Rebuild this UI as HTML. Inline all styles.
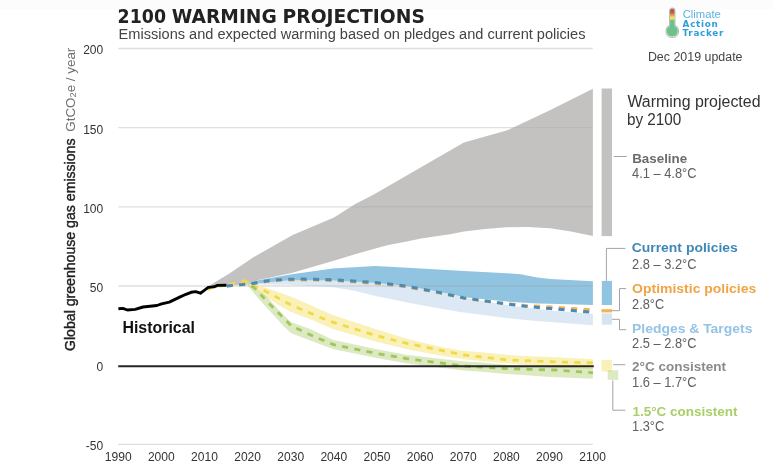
<!DOCTYPE html>
<html lang="en"><head><meta charset="utf-8"><title>2100 Warming Projections</title>
<style>
html,body{margin:0;padding:0;background:#fff;}
body{width:773px;height:475px;overflow:hidden;}
svg{display:block;font-family:"Liberation Sans",sans-serif;}
</style></head><body>
<svg width="773" height="475" viewBox="0 0 773 475">
<rect x="0" y="0" width="773" height="475" fill="#ffffff"/>
<rect x="0" y="0" width="773" height="9.6" fill="#fcfcfc"/>

<g stroke="#dfdfdf" stroke-width="1.3" fill="none">
<line x1="118.2" x2="592.8" y1="48.5" y2="48.5"/>
<line x1="118.2" x2="592.8" y1="127.7" y2="127.7"/>
<line x1="118.2" x2="592.8" y1="206.8" y2="206.8"/>
<line x1="118.2" x2="592.8" y1="286.0" y2="286.0"/>
<line x1="118.2" x2="592.8" y1="444.3" y2="444.3"/>
</g>
<path d="M210.0,285.3 L229.8,273.2 L252.6,257.7 L292.7,235.1 L334.0,217.6 L355.3,204.0 L372.9,195.0 L405.0,176.5 L463.9,142.6 L506.5,130.6 L550.4,110.1 L592.9,88.8 L592.9,235.9 L571.0,231.6 L550.4,228.2 L528.0,227.0 L506.5,227.3 L485.0,228.9 L463.9,231.6 L450.0,234.2 L421.0,238.4 L408.0,241.2 L387.3,245.3 L375.4,248.6 L355.0,254.2 L333.8,260.8 L320.0,264.7 L290.7,273.2 L257.2,280.3 L253.0,282.4 L247.6,284.6 L226.0,285.8 L218.0,285.8 L210.0,285.3Z" fill="#c3c2c1"/>
<path d="M238.5,283.6 L245,279.2 L251,282.6 L249.5,285.2 L238.5,285.4Z" fill="#efe08a" fill-opacity="0.55"/>
<path d="M248.0,284.4 L290.2,280.2 L332.8,280.6 L375.4,283.0 L405.0,285.7 L437.6,291.5 L470.0,298.7 L503.7,304.6 L537.3,309.1 L550.4,310.5 L592.9,313.8 L592.9,325.2 L550.4,321.9 L537.3,320.9 L506.5,318.0 L470.0,313.3 L460.0,311.9 L437.0,308.0 L405.8,302.2 L395.6,300.0 L375.4,296.0 L353.0,290.6 L332.8,287.2 L290.2,284.7 L248.0,284.6Z" fill="#dce8f3"/>
<path d="M248.0,284.2 L252.6,281.3 L290.2,274.6 L332.8,268.6 L375.4,266.0 L408.0,267.7 L463.9,270.9 L506.5,273.2 L520.5,274.3 L537.3,277.6 L550.4,279.0 L592.9,281.3 L592.9,304.9 L550.4,303.8 L537.3,303.4 L506.5,301.6 L470.0,297.8 L463.9,297.0 L437.6,291.5 L405.0,285.7 L375.4,283.0 L332.8,280.6 L290.2,280.2 L248.0,284.4Z" fill="#90c4e0"/>
<path d="M249.0,284.6 L265.3,287.6 L290.5,296.5 L310.7,305.3 L332.8,315.1 L375.4,329.1 L406.0,338.6 L440.0,346.7 L463.9,351.0 L482.0,352.3 L506.5,354.8 L530.0,356.2 L550.4,357.1 L560.0,357.5 L592.9,359.3 L592.9,368.9 L550.4,367.2 L530.0,365.2 L506.5,363.5 L463.9,359.3 L440.0,355.4 L406.0,349.0 L375.4,341.6 L332.8,328.9 L310.7,319.4 L290.5,311.8 L277.9,304.7 L265.3,296.5 L252.6,286.4 L249.0,285.4Z" fill="#faf1b8"/>
<path d="M249.0,284.6 L252.6,286.4 L265.3,295.2 L277.9,309.1 L290.7,322.0 L310.7,329.3 L332.8,339.7 L375.4,348.9 L406.0,354.8 L463.9,361.6 L482.0,362.6 L509.0,365.0 L550.4,366.8 L592.9,367.9 L592.9,378.8 L550.4,377.0 L530.0,375.6 L506.5,374.0 L482.0,371.8 L463.9,370.5 L406.0,363.3 L375.4,357.7 L332.8,348.9 L295.6,335.0 L290.5,332.8 L284.2,326.8 L271.6,312.9 L258.9,299.0 L247.5,285.4Z" fill="#94bc44" fill-opacity="0.33"/>
<defs><clipPath id="areas"><path d="M210.0,285.3 L229.8,273.2 L252.6,257.7 L292.7,235.1 L334.0,217.6 L355.3,204.0 L372.9,195.0 L405.0,176.5 L463.9,142.6 L506.5,130.6 L550.4,110.1 L592.9,88.8 L592.9,235.9 L571.0,231.6 L550.4,228.2 L528.0,227.0 L506.5,227.3 L485.0,228.9 L463.9,231.6 L450.0,234.2 L421.0,238.4 L408.0,241.2 L387.3,245.3 L375.4,248.6 L355.0,254.2 L333.8,260.8 L320.0,264.7 L290.7,273.2 L257.2,280.3 L253.0,282.4 L247.6,284.6 L226.0,285.8 L218.0,285.8 L210.0,285.3Z"/><path d="M248.0,284.4 L290.2,280.2 L332.8,280.6 L375.4,283.0 L405.0,285.7 L437.6,291.5 L470.0,298.7 L503.7,304.6 L537.3,309.1 L550.4,310.5 L592.9,313.8 L592.9,325.2 L550.4,321.9 L537.3,320.9 L506.5,318.0 L470.0,313.3 L460.0,311.9 L437.0,308.0 L405.8,302.2 L395.6,300.0 L375.4,296.0 L353.0,290.6 L332.8,287.2 L290.2,284.7 L248.0,284.6Z"/><path d="M248.0,284.2 L252.6,281.3 L290.2,274.6 L332.8,268.6 L375.4,266.0 L408.0,267.7 L463.9,270.9 L506.5,273.2 L520.5,274.3 L537.3,277.6 L550.4,279.0 L592.9,281.3 L592.9,304.9 L550.4,303.8 L537.3,303.4 L506.5,301.6 L470.0,297.8 L463.9,297.0 L437.6,291.5 L405.0,285.7 L375.4,283.0 L332.8,280.6 L290.2,280.2 L248.0,284.4Z"/></clipPath></defs>
<g stroke="#a0a0a0" stroke-opacity="0.3" stroke-width="1" fill="none" clip-path="url(#areas)">
<line x1="118.2" x2="592.8" y1="127.7" y2="127.7"/>
<line x1="118.2" x2="592.8" y1="206.8" y2="206.8"/>
<line x1="118.2" x2="592.8" y1="286.0" y2="286.0" stroke-opacity="0.4"/>
</g>
<path d="M207.6,289.5 L217.8,286.0 L226.0,285.6 L245.0,280.8 L255.2,286.4 L265.9,291.4 L277.2,297.5 L288.0,303.4 L299.3,308.5 L310.7,313.3 L322.1,318.2 L332.8,322.1 L375.4,335.4 L406.0,343.2 L440.0,350.2 L463.9,355.0 L506.5,359.8 L550.4,361.7 L593.0,362.9" fill="none" stroke="#f0da48" stroke-width="2.8" stroke-dasharray="6.1 6.3" stroke-dashoffset="2.5"/>
<path d="M249.0,284.6 L253.9,287.6 L270.9,305.3 L288.6,323.0 L291.0,326.0 L299.3,329.5 L310.7,335.0 L332.8,344.4 L375.4,353.2 L406.0,358.5 L463.9,366.1 L506.5,368.6 L529.0,369.3 L555.0,370.0 L578.0,371.7 L593.0,372.8" fill="none" stroke="#9fc75f" stroke-width="2.8" stroke-dasharray="6.1 6.3" stroke-dashoffset="9.6"/>
<path d="M226.0,286.0 L242.5,284.7 L253.9,283.5 L266.5,281.5 L278.5,280.5 L290.5,280.0 L303.1,279.9 L315.8,280.1 L332.8,280.5 L375.4,283.4 L405.0,286.6 L437.6,292.5 L463.9,298.1 L487.7,301.4 L506.5,303.7 L525.3,305.5 L550.4,306.9 L593.0,310.0" fill="none" stroke="#f4b350" stroke-width="3" stroke-dasharray="6.1 6.28" stroke-dashoffset="-0.8"/>
<path d="M226.0,286.0 L242.5,284.5 L253.9,283.2 L266.5,280.9 L278.5,279.8 L290.5,279.2 L303.1,279.1 L315.8,279.3 L332.8,279.7 L375.4,282.5 L405.0,285.9 L437.6,292.1 L463.9,297.9 L487.7,301.3 L506.5,304.0 L525.3,306.3 L550.4,308.6 L593.0,312.3" fill="none" stroke="#4a8ab5" stroke-width="3" stroke-dasharray="6.1 6.28" stroke-dashoffset="-0.8"/>
<line x1="118.2" x2="593.8" y1="366.15" y2="366.15" stroke="#262626" stroke-width="2"/>
<path d="M118.4,308.8 L122.8,308.4 L127.4,310.0 L135.2,309.4 L143.0,307.0 L150.0,306.2 L156.9,305.5 L161.6,303.9 L169.3,302.1 L180.2,296.9 L186.0,294.3 L191.1,292.3 L195.7,291.6 L200.4,293.2 L204.3,290.4 L208.2,287.4 L214.4,286.8 L217.5,285.4 L226.4,285.3" fill="none" stroke="#000" stroke-width="2.9" stroke-linejoin="round"/>
<rect x="601.6" y="88.5" width="10.4" height="147.6" fill="#c3c2c1"/>
<rect x="601.8" y="280.9" width="10.2" height="24.1" fill="#90c4e0"/>
<rect x="601.4" y="309.2" width="10.6" height="3.2" fill="#f4b350"/>
<rect x="601.8" y="313.4" width="10.2" height="11.3" fill="#d5e4f1"/>
<rect x="601.4" y="359.9" width="10.5" height="11.7" fill="#faf1b8"/>
<rect x="607.7" y="370.3" width="10.5" height="9.6" fill="#94bc44" fill-opacity="0.33"/>
<g stroke="#a4a4a4" stroke-width="1" fill="none">
<path d="M613.7,156.5H626.7"/>
<path d="M606.4,280.9V248.4H625.4"/>
<path d="M612,310.7H619.5V288.6H626.2"/>
<path d="M612,319.3H619.5V329.7H626.2"/>
<path d="M613.1,364.7H625.4"/>
<path d="M612.8,380.4V410.2H625.4"/>
</g>
<text y="22.7" font-size="19" fill="#222" font-weight="bold" font-family="DejaVu Sans, Liberation Sans, sans-serif"><tspan x="117.6" textLength="48.4" lengthAdjust="spacingAndGlyphs">2100</tspan> <tspan x="171.8" textLength="105" lengthAdjust="spacingAndGlyphs">WARMING</tspan> <tspan x="282.5" textLength="142.4" lengthAdjust="spacingAndGlyphs">PROJECTIONS</tspan></text>
<text x="118.6" y="38.7" font-size="14" fill="#444" font-weight="normal" text-anchor="start" textLength="466.9" lengthAdjust="spacingAndGlyphs">Emissions and expected warming based on pledges and current policies</text>
<text x="103.2" y="54.3" font-size="12" fill="#333" font-weight="normal" text-anchor="end">200</text>
<text x="103.2" y="133.5" font-size="12" fill="#333" font-weight="normal" text-anchor="end">150</text>
<text x="103.2" y="212.6" font-size="12" fill="#333" font-weight="normal" text-anchor="end">100</text>
<text x="103.2" y="291.8" font-size="12" fill="#333" font-weight="normal" text-anchor="end">50</text>
<text x="103.2" y="370.9" font-size="12" fill="#333" font-weight="normal" text-anchor="end">0</text>
<text x="103.2" y="450.1" font-size="12" fill="#333" font-weight="normal" text-anchor="end">-50</text>
<text x="118.2" y="461.2" font-size="12" fill="#333" font-weight="normal" text-anchor="middle" textLength="26.8" lengthAdjust="spacingAndGlyphs">1990</text>
<text x="161.3" y="461.2" font-size="12" fill="#333" font-weight="normal" text-anchor="middle" textLength="26.8" lengthAdjust="spacingAndGlyphs">2000</text>
<text x="204.5" y="461.2" font-size="12" fill="#333" font-weight="normal" text-anchor="middle" textLength="26.8" lengthAdjust="spacingAndGlyphs">2010</text>
<text x="247.6" y="461.2" font-size="12" fill="#333" font-weight="normal" text-anchor="middle" textLength="26.8" lengthAdjust="spacingAndGlyphs">2020</text>
<text x="290.7" y="461.2" font-size="12" fill="#333" font-weight="normal" text-anchor="middle" textLength="26.8" lengthAdjust="spacingAndGlyphs">2030</text>
<text x="333.8" y="461.2" font-size="12" fill="#333" font-weight="normal" text-anchor="middle" textLength="26.8" lengthAdjust="spacingAndGlyphs">2040</text>
<text x="377.0" y="461.2" font-size="12" fill="#333" font-weight="normal" text-anchor="middle" textLength="26.8" lengthAdjust="spacingAndGlyphs">2050</text>
<text x="420.1" y="461.2" font-size="12" fill="#333" font-weight="normal" text-anchor="middle" textLength="26.8" lengthAdjust="spacingAndGlyphs">2060</text>
<text x="463.2" y="461.2" font-size="12" fill="#333" font-weight="normal" text-anchor="middle" textLength="26.8" lengthAdjust="spacingAndGlyphs">2070</text>
<text x="506.4" y="461.2" font-size="12" fill="#333" font-weight="normal" text-anchor="middle" textLength="26.8" lengthAdjust="spacingAndGlyphs">2080</text>
<text x="549.5" y="461.2" font-size="12" fill="#333" font-weight="normal" text-anchor="middle" textLength="26.8" lengthAdjust="spacingAndGlyphs">2090</text>
<text x="592.6" y="461.2" font-size="12" fill="#333" font-weight="normal" text-anchor="middle" textLength="26.8" lengthAdjust="spacingAndGlyphs">2100</text>
<g transform="translate(74.8,351) rotate(-90)">
<text x="0" y="0" font-size="14" fill="#222" font-weight="normal" text-anchor="start" textLength="212.5" lengthAdjust="spacingAndGlyphs" stroke="#222" stroke-width="0.4">Global greenhouse gas emissions</text>
<text x="219.3" y="0" font-size="13" fill="#707070" font-weight="normal" text-anchor="start" textLength="84" lengthAdjust="spacingAndGlyphs">GtCO<tspan font-size="9" dy="1">2</tspan><tspan dy="-1">e / year</tspan></text>
</g>
<text x="122.4" y="332.6" font-size="15.8" fill="#111" font-weight="bold" text-anchor="start" textLength="72.6" lengthAdjust="spacingAndGlyphs">Historical</text>
<g>
<defs><linearGradient id="tg" gradientUnits="userSpaceOnUse" x1="0" y1="8" x2="0" y2="37">
<stop offset="0" stop-color="#b7524c"/><stop offset="0.15" stop-color="#bd584b"/><stop offset="0.23" stop-color="#dd8f4d"/><stop offset="0.31" stop-color="#f0d95a"/><stop offset="0.37" stop-color="#f1e45e"/><stop offset="0.43" stop-color="#7cc684"/><stop offset="0.47" stop-color="#6cc28a"/><stop offset="1" stop-color="#6cc28a"/>
</linearGradient></defs>
<path d="M669.6,10.7a2.65,2.65 0 0 1 5.3,0V25.5a6.3,6.3 0 1 1 -5.3,0Z" fill="#f4f4f4" stroke="#bcbcbc" stroke-width="1.2"/>
<path d="M670.05,10.9a2.2,2.2 0 0 1 4.4,0V25.9a5.55,5.55 0 1 1 -4.4,0Z" fill="url(#tg)"/>
</g>
<text x="682.7" y="17.5" font-size="10.2" fill="#5bb3e0" font-weight="normal" text-anchor="start" textLength="38.2" lengthAdjust="spacingAndGlyphs">Climate</text>
<text x="682.6" y="26.6" font-size="8.8" fill="#2b9fd9" font-weight="bold" font-family="DejaVu Sans, Liberation Sans, sans-serif" textLength="35.2" lengthAdjust="spacing">Action</text>
<text x="682.6" y="35.9" font-size="8.8" fill="#2b9fd9" font-weight="bold" font-family="DejaVu Sans, Liberation Sans, sans-serif" textLength="40.8" lengthAdjust="spacing">Tracker</text>
<text x="647.9" y="60.5" font-size="12.5" fill="#444" font-weight="normal" text-anchor="start" textLength="94.6" lengthAdjust="spacingAndGlyphs">Dec 2019 update</text>
<text x="627.4" y="107.3" font-size="15.8" fill="#333" font-weight="normal" text-anchor="start" textLength="133.1" lengthAdjust="spacingAndGlyphs">Warming projected</text>
<text x="627.0" y="124.6" font-size="15.8" fill="#333" font-weight="normal" text-anchor="start" textLength="54.3" lengthAdjust="spacingAndGlyphs">by 2100</text>
<text x="632.2" y="162.7" font-size="13.5" fill="#6b6b6b" font-weight="bold" text-anchor="start" textLength="55.0" lengthAdjust="spacingAndGlyphs">Baseline</text>
<text x="632.1" y="177.6" font-size="14.5" fill="#606060" font-weight="normal" text-anchor="start" textLength="64.4" lengthAdjust="spacingAndGlyphs">4.1 – 4.8°C</text>
<text x="631.7" y="252.3" font-size="13.5" fill="#3f87b8" font-weight="bold" text-anchor="start" textLength="106.1" lengthAdjust="spacingAndGlyphs">Current policies</text>
<text x="632.1" y="269.0" font-size="14.5" fill="#606060" font-weight="normal" text-anchor="start" textLength="64.4" lengthAdjust="spacingAndGlyphs">2.8 – 3.2°C</text>
<text x="632.1" y="293.1" font-size="13.5" fill="#f0a443" font-weight="bold" text-anchor="start" textLength="124.2" lengthAdjust="spacingAndGlyphs">Optimistic policies</text>
<text x="632.1" y="308.8" font-size="14.5" fill="#606060" font-weight="normal" text-anchor="start" textLength="32.1" lengthAdjust="spacingAndGlyphs">2.8°C</text>
<text x="632.0" y="333.4" font-size="13.5" fill="#93c4e3" font-weight="bold" text-anchor="start" textLength="120.4" lengthAdjust="spacingAndGlyphs">Pledges &amp; Targets</text>
<text x="632.1" y="348.0" font-size="14.5" fill="#606060" font-weight="normal" text-anchor="start" textLength="64.4" lengthAdjust="spacingAndGlyphs">2.5 – 2.8°C</text>
<text x="632.1" y="371.1" font-size="13.5" fill="#8a8a8a" font-weight="bold" text-anchor="start" textLength="94.0" lengthAdjust="spacingAndGlyphs">2°C consistent</text>
<text x="632.1" y="387.2" font-size="14.5" fill="#606060" font-weight="normal" text-anchor="start" textLength="64.4" lengthAdjust="spacingAndGlyphs">1.6 – 1.7°C</text>
<text x="632.4" y="415.8" font-size="13.5" fill="#a9cf6a" font-weight="bold" text-anchor="start" textLength="105.1" lengthAdjust="spacingAndGlyphs">1.5°C consistent</text>
<text x="632.1" y="431.4" font-size="14.5" fill="#606060" font-weight="normal" text-anchor="start" textLength="32.1" lengthAdjust="spacingAndGlyphs">1.3°C</text>
</svg></body></html>
